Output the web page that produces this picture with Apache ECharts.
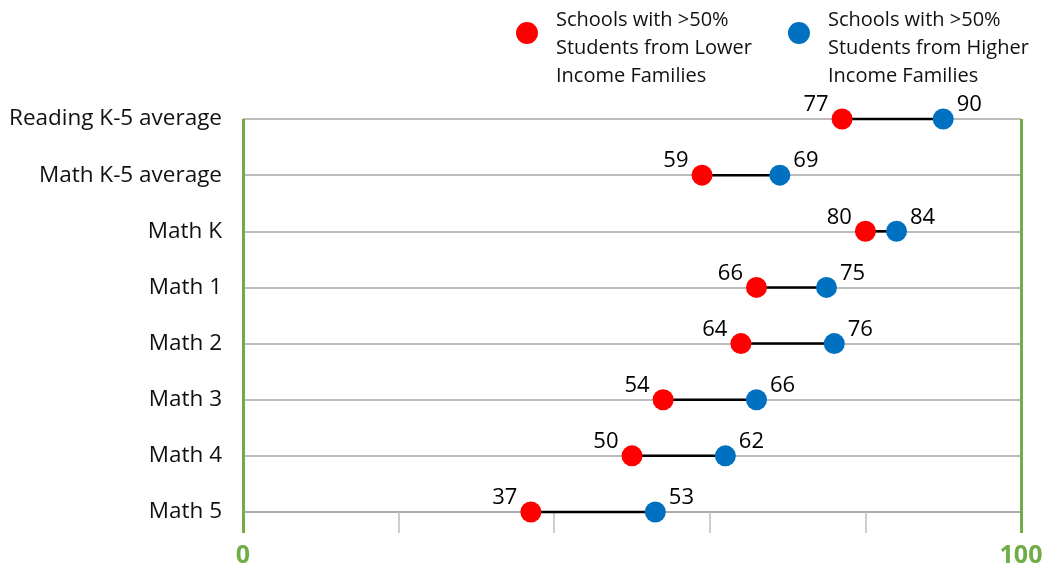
<!DOCTYPE html>
<html><head><meta charset="utf-8">
<script src="https://cdn.jsdelivr.net/npm/echarts@6/dist/echarts.min.js"></script>
<style>html,body{margin:0;padding:0;background:#fff}#c{width:1050px;height:575px}</style>
</head><body><div id="c"></div>
<script>
const categories = ['Reading K-5 average','Math K-5 average','Math K','Math 1','Math 2','Math 3','Math 4','Math 5'];
const lowerIncome = [77,59,80,66,64,54,50,37];
const higherIncome = [90,69,84,75,76,66,62,53];
const xTickLabels = {0:'0',100:'100'};
const seriesNames = ['Schools with >50%\nStudents from Lower\nIncome Families','Schools with >50%\nStudents from Higher\nIncome Families'];

const FONT = 'Open Sans';
const chart = echarts.init(document.getElementById('c'), null, {renderer:'canvas'});
const iconPath = 'path://M11,0 A11,11 0 1,1 11,22 A11,11 0 1,1 11,0 Z M11,52 L11,52 Z';
chart.setOption({
  animation:false,
  textStyle:{fontFamily:FONT},
  legend:{
    left:511, top:1, itemGap:36, itemWidth:22, itemHeight:52,
    icon:iconPath,
    textStyle:{fontSize:20, lineHeight:28, color:'#111', fontFamily:FONT, padding:[0,0,0,13]},
    data:[{name:seriesNames[0], icon:iconPath},{name:seriesNames[1], icon:iconPath}],
    itemStyle:{borderWidth:0, opacity:1}
  },
  grid:{left:243, right:29, top:119, bottom:63, containLabel:false},
  xAxis:[{
    type:'value', min:0, max:100, interval:20, position:'bottom',
    axisLine:{show:true, lineStyle:{color:'#a6a6a6', width:1.5}},
    axisTick:{show:true, length:21, lineStyle:{color:'#bfbfbf', width:1.5}},
    axisLabel:{show:false}, splitLine:{show:false}
  },{
    type:'value', min:0, max:100, interval:100, position:'bottom',
    axisLine:{show:false},
    axisTick:{show:true, length:21, lineStyle:{color:'#70ad47', width:3}},
    axisLabel:{show:true, margin:31, fontSize:25, fontWeight:'bold', color:'#70ad47', fontFamily:FONT,
      formatter:v => xTickLabels[v] || ''},
    splitLine:{show:true, lineStyle:{color:'#70ad47', width:3}}
  }],
  yAxis:{
    type:'category', data:categories, inverse:true, boundaryGap:false,
    axisLine:{show:false}, axisTick:{show:false},
    axisLabel:{fontSize:22.5, color:'#111', margin:21, fontFamily:FONT},
    splitLine:{show:true, lineStyle:{color:'#a6a6a6', width:1.5}}
  },
  series:[{
    type:'custom', xAxisIndex:0, silent:true,
    data:categories.map((c,i)=>[i, lowerIncome[i], higherIncome[i]]),
    encode:{x:[1,2], y:0},
    renderItem:(params, api)=>{
      const a = api.coord([api.value(1), api.value(0)]);
      const b = api.coord([api.value(2), api.value(0)]);
      return {type:'line', shape:{x1:a[0],y1:a[1],x2:b[0],y2:b[1]}, style:{stroke:'#000', lineWidth:2.5}};
    },
    z:2
  },{
    name:seriesNames[0], type:'scatter', xAxisIndex:0, symbol:'circle', symbolSize:21,
    itemStyle:{color:'#ff0000', opacity:1},
    data:categories.map((c,i)=>[lowerIncome[i], c]),
    label:{show:true, position:'left', distance:3, offset:[0,-14], fontSize:22, color:'#000', opacity:1, fontFamily:FONT,
      formatter:p=>p.value[0]},
    z:3
  },{
    name:seriesNames[1], type:'scatter', xAxisIndex:0, symbol:'circle', symbolSize:21,
    itemStyle:{color:'#0070c0', opacity:1},
    data:categories.map((c,i)=>[higherIncome[i], c]),
    label:{show:true, position:'right', distance:3, offset:[0,-14], fontSize:22, color:'#000', opacity:1, fontFamily:FONT,
      formatter:p=>p.value[0]},
    z:3
  }]
});
</script></body></html>
